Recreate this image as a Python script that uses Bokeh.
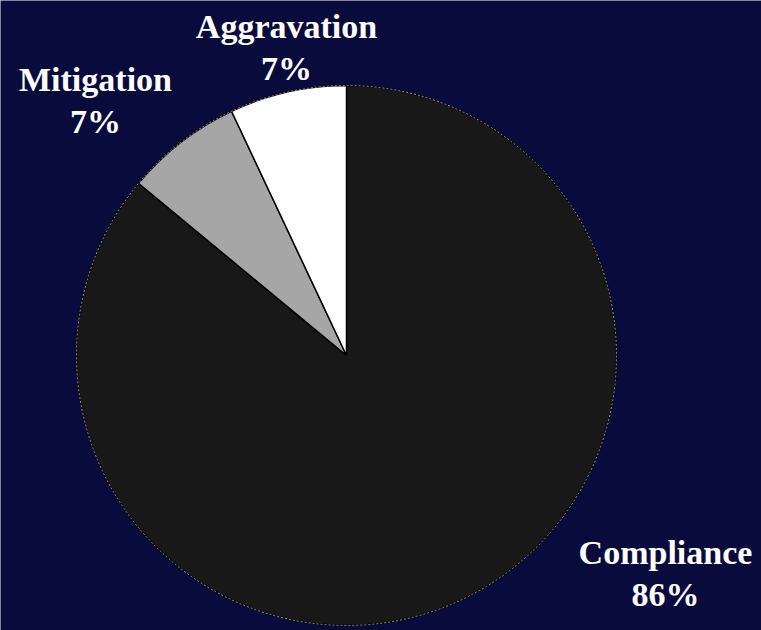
import math
from bokeh.plotting import figure
from bokeh.models import Range1d, ColumnDataSource
from bokeh.core.properties import value
from bokeh.embed import file_html
from bokeh.resources import INLINE

# ---- data ----
categories = ["Compliance", "Mitigation", "Aggravation"]
percents = [86, 7, 7]
colors = ["#181818", "#a6a6a6", "#ffffff"]

# ---- layout ----
W, H = 761, 630
cx, cy, R = 346, 275, 270

p = figure(width=W, height=H, output_backend="svg", toolbar_location=None,
           x_range=Range1d(0, W), y_range=Range1d(0, H), min_border=0)
p.axis.visible = False
p.grid.visible = False
p.outline_line_color = None
p.background_fill_color = "#080b3c"
p.border_fill_color = "#080b3c"

total = sum(percents)
starts, ends = [], []
cum = 0.0
for v in percents:
    starts.append(math.pi / 2 - 2 * math.pi * cum / total)
    cum += v
    ends.append(math.pi / 2 - 2 * math.pi * cum / total)

src = ColumnDataSource(dict(cat=categories, val=percents, start=starts, end=ends, color=colors))
p.wedge(x=cx, y=cy, radius=R, start_angle="start", end_angle="end", direction="clock",
        fill_color="color", line_color="#000000", line_width=1.5, source=src)
# light dotted rim of the pie
p.circle(x=[cx], y=[cy], radius=R, fill_color=None, line_color="#9a9a9a",
         line_width=1, line_dash="2 2")

# label positions (screen layout, top-left origin)
label_pos = [(665, 573), (95, 100), (286, 47)]
lx = [x for x, _ in label_pos]
ly_name = [H - (y - 21) for _, y in label_pos]
ly_pct = [H - (y + 21) for _, y in label_pos]
names = categories
pcts = [f"{v}%" for v in percents]

for ys, texts in ((ly_name, names), (ly_pct, pcts)):
    p.text(x=lx, y=ys, text=texts, text_color="#ffffff",
           text_font=value("Liberation Serif"), text_font_style="bold",
           text_font_size="34px", text_align="center", text_baseline="middle")

open("out.html", "w").write(file_html(p, INLINE))
